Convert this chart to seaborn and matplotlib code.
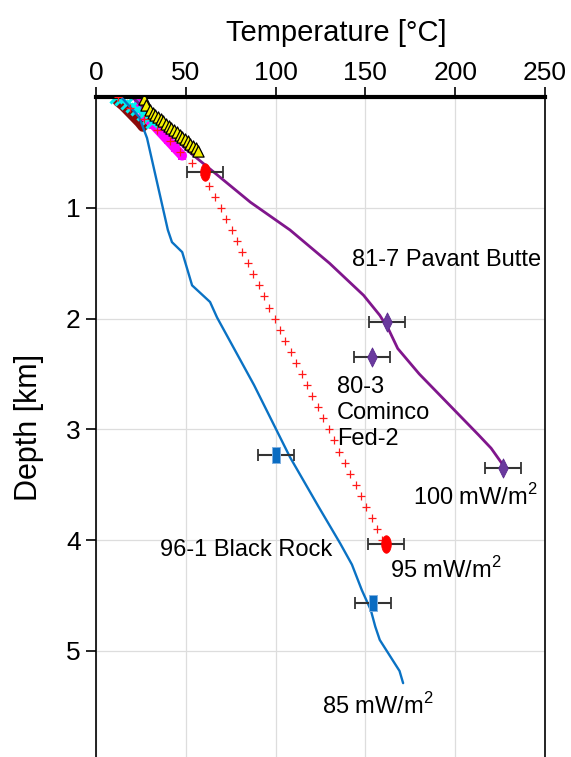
import numpy as np
import pandas as pd
import matplotlib
matplotlib.use("Agg")
import matplotlib.pyplot as plt
from matplotlib.markers import MarkerStyle
from matplotlib.path import Path
import seaborn as sns

# --- data (temperature in degC, depth in km) ---
pavant_T = [20, 35, 50, 86, 108, 130, 149, 158, 163, 168, 180, 195, 213, 220, 227]
pavant_d = [0.0, 0.22, 0.47, 0.95, 1.2, 1.5, 1.79, 1.97, 2.1, 2.27, 2.5, 2.75, 3.05, 3.17, 3.33]

black_T = [14, 24, 28.4, 40, 42.3, 48, 53.5, 63.5, 67.4, 88, 108, 124, 136, 142.5, 148, 153, 155.5, 158, 169, 171]
black_d = [0.0, 0.18, 0.37, 1.2, 1.31, 1.40, 1.70, 1.85, 1.99, 2.6, 3.25, 3.7, 4.03, 4.22, 4.45, 4.63, 4.78, 4.9, 5.18, 5.29]

cominco_T = [12, 19, 27, 34, 41, 47, 53.5, 60, 63, 66.5, 69.5, 72.5, 75.5, 78.5, 81.5, 84.5, 87.5,
             90.5, 93.5, 96.5, 99.5, 102.5, 105.5, 108.5, 111.5, 114.5, 117.5, 120.5, 123.5, 126.5,
             129.5, 132.5, 135.5, 138.5, 141.5, 144.5, 147.5, 150.5, 153.5, 156.5, 159.5]
cominco_d = [0.0, 0.1, 0.2, 0.3, 0.4, 0.5, 0.6, 0.7, 0.8, 0.9, 1.0, 1.1, 1.2, 1.3, 1.4, 1.5, 1.6,
             1.7, 1.8, 1.9, 2.0, 2.1, 2.2, 2.3, 2.4, 2.5, 2.6, 2.7, 2.8, 2.9,
             3.0, 3.1, 3.2, 3.3, 3.4, 3.5, 3.6, 3.7, 3.8, 3.9, 4.0]

# shallow well logs near the surface
darkred_T = [12, 15, 18, 21, 24, 26]
darkred_d = [0.04, 0.08, 0.13, 0.18, 0.23, 0.27]
cyan_T = [11, 14, 17, 20, 23, 26, 29, 31]
cyan_d = [0.0, 0.02, 0.05, 0.08, 0.11, 0.15, 0.19, 0.23]
magenta_T = [24, 24, 25, 28, 32, 36, 40, 44, 48]
magenta_d = [0.0, 0.05, 0.1, 0.18, 0.25, 0.32, 0.39, 0.46, 0.53]
yellow_T = [27, 28, 30, 31.5, 33, 34.5, 36, 37.5, 39, 40.5, 42, 43.5, 45, 46.5, 48, 49.5, 51, 52.5, 54, 55.5, 57]
yellow_d = [0.02, 0.07, 0.12, 0.14, 0.16, 0.18, 0.20, 0.22, 0.24, 0.26, 0.28, 0.30, 0.32, 0.34, 0.36,
            0.38, 0.40, 0.42, 0.44, 0.46, 0.49]

# bottom-hole / corrected temperatures with +-10 degC error
diam_T = [161.8, 153.7, 226.6]
diam_d = [2.03, 2.35, 3.35]
oval_T = [60.7, 161.5]
oval_d = [0.68, 4.03]
rect_T = [100.2, 154.2]
rect_d = [3.23, 4.57]
err_T = 10

xticks = [0, 50, 100, 150, 200, 250]
yticks = [1, 2, 3, 4, 5]

sns.set_style("white")
plt.rcParams["font.family"] = ["Liberation Sans", "DejaVu Sans"]
plt.rcParams["mathtext.fontset"] = "custom"
plt.rcParams["mathtext.rm"] = "Liberation Sans"
plt.rcParams["text.color"] = "black"
plt.rcParams["axes.labelcolor"] = "black"
plt.rcParams["xtick.color"] = "black"
plt.rcParams["ytick.color"] = "black"

fig = plt.figure(figsize=(5.71, 7.57), dpi=100)
ax = fig.add_axes([96 / 571, 0, 449 / 571, 660 / 757])

# marker shapes
diamond = MarkerStyle(Path([(0, 1), (0.5, 0), (0, -1), (-0.5, 0), (0, 1)], closed=True))
rect = MarkerStyle(Path([(-0.5, -1), (0.5, -1), (0.5, 1), (-0.5, 1), (-0.5, -1)], closed=True))
ang = np.linspace(0, 2 * np.pi, 40)
oval = MarkerStyle(Path(np.column_stack([0.55 * np.cos(ang), np.sin(ang)]), closed=True))

# near-surface logs
sns.lineplot(x=darkred_T, y=darkred_d, sort=False, estimator=None, color="#8b0a0a",
             linewidth=7, solid_capstyle="round", ax=ax, zorder=2)
sns.lineplot(x=magenta_T, y=magenta_d, sort=False, estimator=None, color="#ff00ff",
             linewidth=7, marker="s", markersize=6, markeredgewidth=0, ax=ax, zorder=2.1)
sns.lineplot(x=cyan_T, y=cyan_d, sort=False, estimator=None, color="#00f0f0",
             linewidth=2.5, marker="x", markersize=8, markeredgewidth=2.2,
             markeredgecolor="#00f0f0", ax=ax, zorder=2.2)
sns.scatterplot(x=yellow_T, y=yellow_d, marker="^", s=65, color="#f5f000",
                edgecolor="black", linewidth=0.9, ax=ax, zorder=3)

# profiles
sns.lineplot(x=pavant_T, y=pavant_d, sort=False, estimator=None, color="#80168c",
             linewidth=2.0, ax=ax, zorder=2.5)
sns.lineplot(x=black_T, y=black_d, sort=False, estimator=None, color="#0a72c4",
             linewidth=1.7, ax=ax, zorder=4)
sns.scatterplot(x=cominco_T, y=cominco_d, marker="+", s=30, color="#ff1a1a",
                linewidth=0.9, ax=ax, zorder=5)

# error bars
for T, d in [(diam_T, diam_d), (oval_T, oval_d), (rect_T, rect_d)]:
    ax.errorbar(T, d, xerr=err_T, fmt="none", ecolor="#333333", elinewidth=1.5,
                capsize=4, capthick=1.3, zorder=6)

sns.scatterplot(x=diam_T, y=diam_d, marker=diamond, s=190, color="#6a3a9e",
                edgecolor="#5b2a8e", linewidth=0.6, ax=ax, zorder=7)
sns.scatterplot(x=oval_T, y=oval_d, marker=oval, s=160, color="#ff0000",
                edgecolor="#ff0000", linewidth=0.5, ax=ax, zorder=7)
sns.scatterplot(x=rect_T, y=rect_d, marker=rect, s=120, color="#0a6cc2",
                edgecolor="#7fb0e0", linewidth=0.7, ax=ax, zorder=7)

# labels on the chart
fs = 17
ax.text(142.5, 1.47, "81-7 Pavant Butte", fontsize=fs, va="center", ha="left")
ax.text(134, 2.85, "80-3\nCominco\nFed-2", fontsize=fs, va="center", ha="left", linespacing=1.25)
ax.text(176.5, 3.61, "100 mW/m$^2$", fontsize=fs, va="center", ha="left")
ax.text(35.6, 4.09, "96-1 Black Rock", fontsize=fs, va="center", ha="left")
ax.text(163.7, 4.27, "95 mW/m$^2$", fontsize=fs, va="center", ha="left")
ax.text(126, 5.5, "85 mW/m$^2$", fontsize=fs, va="center", ha="left")

# axes
ax.set_xlim(0, 250)
ax.set_ylim(660 / 110.8, 0)
ax.set_xticks(xticks)
ax.set_yticks(yticks)
ax.xaxis.tick_top()
ax.xaxis.set_label_position("top")
ax.tick_params(axis="x", top=True, bottom=False, direction="out", length=7, width=1.2,
               labelsize=19, pad=2)
ax.tick_params(axis="y", left=True, direction="out", length=7, width=1.2, labelsize=19, pad=4)
ax.set_xlabel("Temperature [°C]", fontsize=21)
ax.set_ylabel("Depth [km]", fontsize=22, labelpad=16)
ax.xaxis.set_label_coords(0.535, 1.085)

ax.grid(True, color="#dddddd", linewidth=0.9)
ax.set_axisbelow(True)
ax.spines["top"].set_linewidth(3)
ax.spines["left"].set_linewidth(1.2)
ax.spines["right"].set_linewidth(1.2)
ax.spines["bottom"].set_visible(False)
for s in ["top", "left", "right"]:
    ax.spines[s].set_color("black")

fig.savefig("out.png", dpi=100)
